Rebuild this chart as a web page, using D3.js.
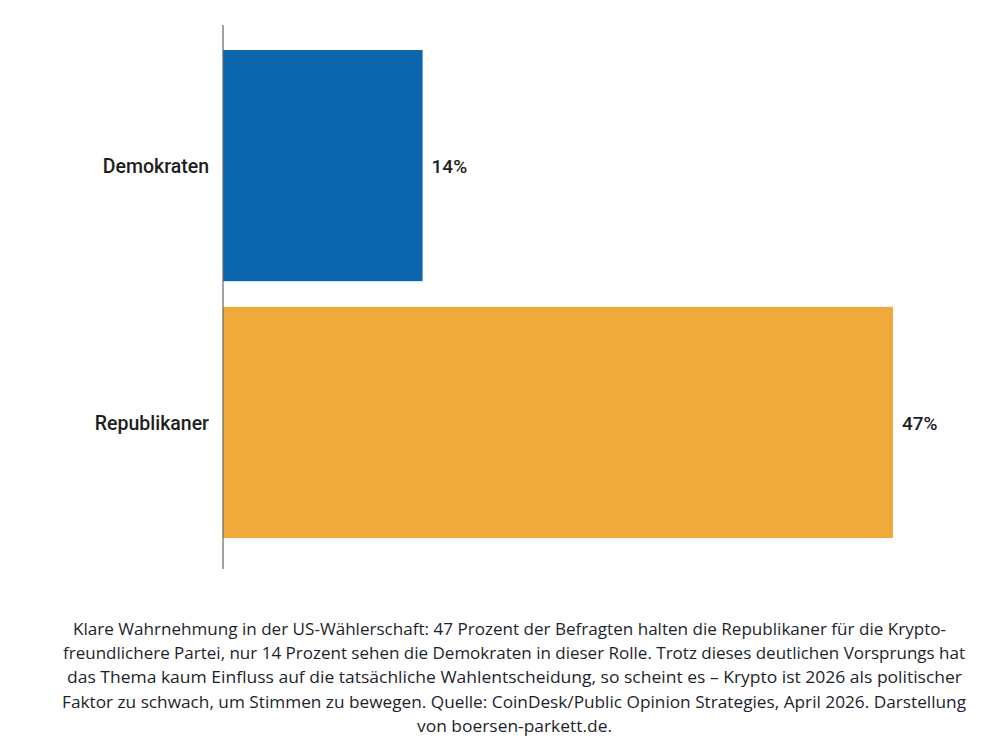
<!DOCTYPE html>
<html>
<head>
<meta charset="utf-8">
<script src="https://cdn.jsdelivr.net/npm/d3@7"></script>
<style>
  body { margin: 0; background: #fff; }
  svg { display: block; }
</style>
</head>
<body>
<div id="chart"></div>
<script>
// data
const parties = ["Demokraten", "Republikaner"];
const shares = [14, 47];
const barColors = ["#0c66ad", "#f0aa3c"];
const captionLines = [
  "Klare Wahrnehmung in der US-Wählerschaft: 47 Prozent der Befragten halten die Republikaner für die Krypto-",
  "freundlichere Partei, nur 14 Prozent sehen die Demokraten in dieser Rolle. Trotz dieses deutlichen Vorsprungs hat",
  "das Thema kaum Einfluss auf die tatsächliche Wahlentscheidung, so scheint es – Krypto ist 2026 als politischer",
  "Faktor zu schwach, um Stimmen zu bewegen. Quelle: CoinDesk/Public Opinion Strategies, April 2026. Darstellung",
  "von boersen-parkett.de."
];

const WIDTH = 1008;
const HEIGHT = 743;
const axisX = 223;

var svg = d3.select("#chart")
  .append("svg")
  .attr("width", WIDTH)
  .attr("height", HEIGHT);

// scales
var x = d3.scaleLinear().domain([0, 47]).range([axisX, 893]);
var y = d3.scaleBand().domain(parties).range([50, 538]).paddingInner(0.1).paddingOuter(0);

// bars
svg.selectAll("rect.bar")
  .data(parties)
  .enter().append("rect")
  .attr("class", "bar")
  .attr("x", x(0))
  .attr("y", function (d) { return y(d); })
  .attr("width", function (d, i) { return x(shares[i]) - x(0); })
  .attr("height", y.bandwidth())
  .attr("fill", function (d, i) { return barColors[i]; });

// value labels
svg.selectAll("text.value")
  .data(parties)
  .enter().append("text")
  .attr("class", "value")
  .attr("x", function (d, i) { return x(shares[i]) + 9; })
  .attr("y", function (d) { return y(d) + y.bandwidth() / 2; })
  .attr("dy", "0.38em")
  .attr("font-family", "Roboto, sans-serif")
  .attr("font-weight", 500)
  .attr("font-size", 19)
  .attr("fill", "#1e1e1e")
  .text(function (d, i) { return shares[i] + "%"; });

// category axis (no ticks)
var yAxis = d3.axisLeft(y).tickSize(0).tickPadding(14);
var gAxis = svg.append("g")
  .attr("transform", "translate(" + axisX + ",0)")
  .call(yAxis);
gAxis.select(".domain").remove();
gAxis.selectAll("text")
  .attr("dy", "0.38em")
  .attr("font-family", "Roboto, sans-serif")
  .attr("font-weight", 500)
  .attr("font-size", 19.5)
  .attr("fill", "#1e1e1e");

svg.append("line")
  .attr("x1", axisX).attr("x2", axisX)
  .attr("y1", 25).attr("y2", 569)
  .attr("stroke", "#666")
  .attr("stroke-width", 1.2);

// caption
var lineStarts = [73, 63, 67, 62, 417];
var lineEnds = [946, 965, 962, 966, 612];
svg.append("g").selectAll("text")
  .data(captionLines)
  .enter().append("text")
  .attr("x", function (d, i) { return lineStarts[i]; })
  .attr("y", function (d, i) { return 635 + i * 24.2; })
  .attr("textLength", function (d, i) { return lineEnds[i] - lineStarts[i]; })
  .attr("lengthAdjust", "spacingAndGlyphs")
  .attr("font-family", "'Open Sans', sans-serif")
  .attr("font-size", 16.5)
  .attr("fill", "#1d1f2c")
  .text(function (d) { return d; });
</script>
</body>
</html>
